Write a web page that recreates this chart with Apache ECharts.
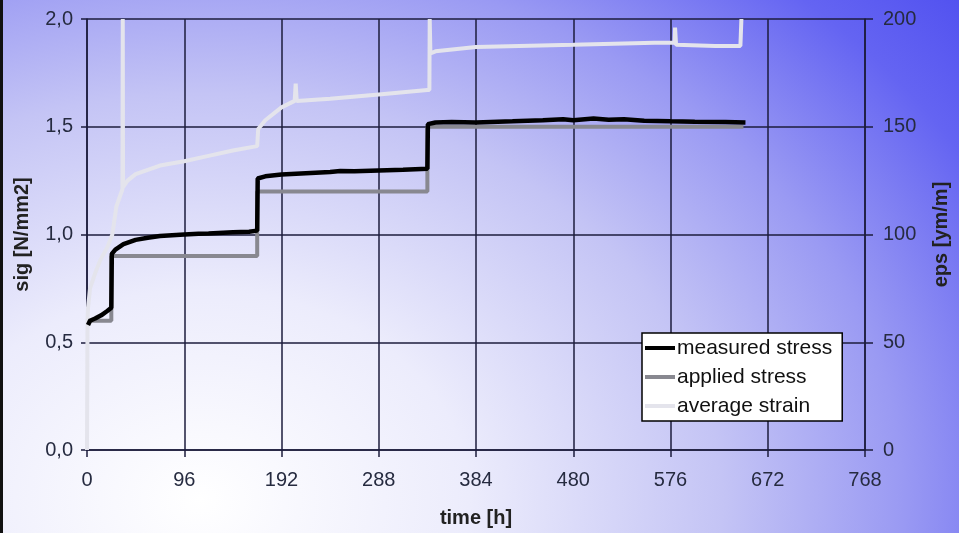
<!DOCTYPE html>
<html>
<head>
<meta charset="utf-8">
<script src="https://cdn.jsdelivr.net/npm/echarts@6/dist/echarts.min.js"></script>
<style>
html,body{margin:0;padding:0;width:959px;height:533px;overflow:hidden;}
#bg{position:absolute;left:0;top:0;width:959px;height:533px;
background:radial-gradient(900px 700px at 200px 500px,#ffffff 0%,#ececfc 30%,#c4c4f5 58%,#9a9af3 78%,#6464f2 98%,#4c4cef 115%);}
#edge{position:absolute;left:0;top:0;width:3px;height:533px;background:#111;}
#chart{position:absolute;left:0;top:0;width:959px;height:533px;}
</style>
</head>
<body>
<div id="bg"></div>
<div id="chart"></div>
<div id="edge"></div>
<script>
// time [h] ticks
const xTicks = [0, 96, 192, 288, 384, 480, 576, 672, 768];
const sigTicks = [0, 0.5, 1.0, 1.5, 2.0];
const epsTicks = [0, 50, 100, 150, 200];
const seriesNames = ['measured stress', 'applied stress', 'average strain'];

// measured stress [N/mm2] : [time h, value]
const measuredStress = [
  [1,0.58],[3,0.6],[8,0.61],[14,0.625],[20,0.645],[24,0.66],
  [24.5,0.91],[28,0.93],[36,0.955],[48,0.975],[60,0.985],[72,0.993],[96,1.0],
  [110,1.003],[120,1.005],[144,1.01],[160,1.013],[168,1.018],
  [168.5,1.26],[176,1.27],[192,1.278],[216,1.284],[240,1.29],[250,1.295],[264,1.293],
  [288,1.297],[312,1.3],[336,1.305],
  [336.5,1.512],[344,1.52],[360,1.522],[384,1.52],[420,1.525],[450,1.53],[470,1.535],
  [480,1.53],[500,1.538],[515,1.532],[530,1.535],[550,1.528],[576,1.525],[600,1.523],
  [630,1.522],[650,1.52]
];

// applied stress [N/mm2]
const appliedStress = [
  [1,0.6],[24,0.6],[24,0.9],[168,0.9],[168,1.2],[336,1.2],[336,1.5],[648,1.5]
];

// average strain [ym/m]
const averageStrain = [
  [0,0],[0.5,60],[1,66],[3,75],[8,82],[13,88],[20,94],[25,100],[29,113],[35,121],
  [35.3,200],[35.6,122],[40,125],[48,128],[72,132],[96,134],[120,136.5],[144,139],[168,141],
  [169,149],[176,153],[192,159],[205,162],[206,170],[207,162],[240,163],[288,165],[336,167],
  [338,167],[338.3,200],[339,184],[344,185],[384,187],[480,188],[560,189],[580,189],
  [580.5,196],[581.5,188],[620,187.5],[645,187.5],[646,200]
];

const gridColor = '#1c1c3c';
const labelColor = '#262b40';
const font = 'Liberation Sans, Arial, sans-serif';

const chart = echarts.init(document.getElementById('chart'), null, {renderer: 'canvas'});
chart.setOption({
  backgroundColor: 'transparent',
  animation: false,
  grid: {left: 87, right: 87, top: 19, bottom: 79, containLabel: false},
  legend: {
    orient: 'vertical',
    left: 642, top: 333,
    data: seriesNames,
    backgroundColor: '#ffffff',
    borderColor: '#000000',
    borderWidth: 1.5,
    borderRadius: 0,
    padding: [3, 10, 3, 3],
    itemGap: 5,
    itemWidth: 30,
    itemHeight: 4,
    icon: 'rect',
    textStyle: {fontFamily: font, fontSize: 21, color: '#111', lineHeight: 24, padding: [0,0,0,-3]}
  },
  xAxis: {
    type: 'value', min: xTicks[0], max: xTicks[xTicks.length-1], interval: 96,
    name: 'time [h]', nameLocation: 'middle', nameGap: 58,
    nameTextStyle: {fontFamily: font, fontSize: 20, fontWeight: 'bold', color: '#222'},
    axisLine: {show: true, lineStyle: {color: gridColor, width: 1.5}},
    axisTick: {show: true, length: 7, lineStyle: {color: gridColor, width: 1.5}},
    axisLabel: {fontFamily: font, fontSize: 20, color: labelColor, margin: 20},
    splitLine: {show: true, lineStyle: {color: gridColor, width: 1.5}}
  },
  yAxis: [
    {
      type: 'value', min: sigTicks[0], max: sigTicks[sigTicks.length-1], interval: 0.5,
      name: 'sig [N/mm2]', nameLocation: 'middle', nameGap: 55,
      nameTextStyle: {fontFamily: font, fontSize: 20, fontWeight: 'bold', color: '#222'},
      axisLine: {show: true, lineStyle: {color: gridColor, width: 1.5}},
      axisTick: {show: true, length: 6, lineStyle: {color: gridColor, width: 1.5}},
      axisLabel: {fontFamily: font, fontSize: 20, color: labelColor, margin: 14,
        formatter: v => v.toFixed(1).replace('.', ',')},
      splitLine: {show: true, lineStyle: {color: gridColor, width: 1.5}}
    },
    {
      type: 'value', min: epsTicks[0], max: epsTicks[epsTicks.length-1], interval: 50,
      position: 'right',
      name: 'eps [ym/m]', nameLocation: 'middle', nameGap: 66, nameRotate: 90,
      nameTextStyle: {fontFamily: font, fontSize: 20, fontWeight: 'bold', color: '#222'},
      axisLine: {show: true, lineStyle: {color: gridColor, width: 1.5}},
      axisTick: {show: true, length: 8, lineStyle: {color: gridColor, width: 1.5}},
      axisLabel: {fontFamily: font, fontSize: 20, color: labelColor, margin: 18},
      splitLine: {show: false}
    }
  ],
  series: [
    {name: seriesNames[0], type: 'line', yAxisIndex: 0, data: measuredStress,
      showSymbol: false, symbol: 'none', z: 4,
      lineStyle: {color: '#000000', width: 4.5}, itemStyle: {color: '#000000'}},
    {name: seriesNames[1], type: 'line', yAxisIndex: 0, data: appliedStress,
      showSymbol: false, symbol: 'none', z: 3,
      lineStyle: {color: '#888890', width: 4}, itemStyle: {color: '#888890'}},
    {name: seriesNames[2], type: 'line', yAxisIndex: 1, data: averageStrain,
      showSymbol: false, symbol: 'none', z: 2,
      lineStyle: {color: '#e4e4ec', width: 4}, itemStyle: {color: '#e4e4ec'}}
  ]
});
</script>
</body>
</html>
